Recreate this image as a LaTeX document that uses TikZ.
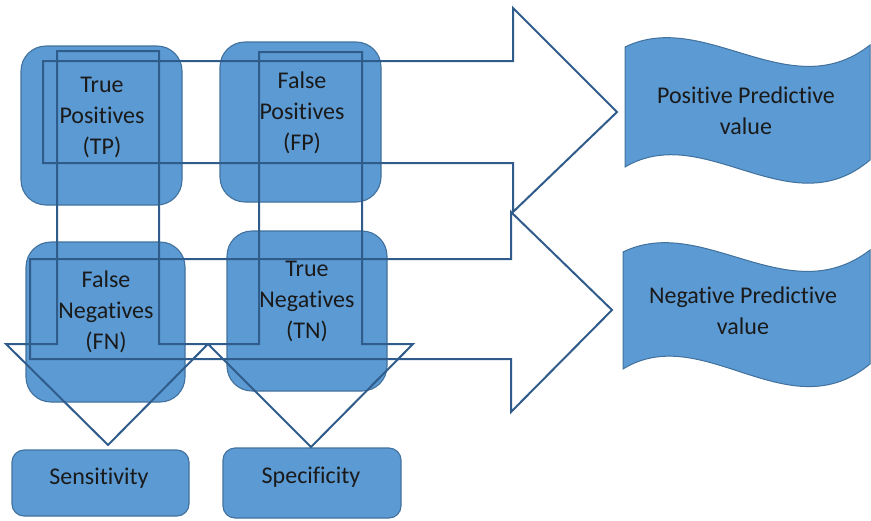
\documentclass[tikz,border=0pt]{standalone}
\usepackage{fontspec}
\setmainfont{Carlito}[Ligatures=NoCommon]
\definecolor{cellfill}{HTML}{5B9AD3}
\definecolor{cellline}{HTML}{41719C}
\definecolor{arrowline}{HTML}{2F5C8A}
\definecolor{inktext}{HTML}{1A1A1A}
\begin{document}
\begin{tikzpicture}[x=1pt,y=-1pt,
  cell/.style={draw=cellline, line width=1.1pt, fill=cellfill, rounded corners=25pt,
    inner sep=0pt, outer sep=0pt},
  result/.style={cell, rounded corners=12pt},
  lbl/.style={text=inktext, align=center, inner sep=0pt,
    font=\fontsize{24}{31}\selectfont},
  bigarrow/.style={draw=arrowline, line width=2pt, line join=miter},
  flag/.style={draw=cellline, line width=1pt, fill=cellfill}]
\useasboundingbox (0,0) rectangle (871,520);

% confusion matrix cells
\node[cell, minimum width=161pt, minimum height=159pt] (tp) at (101.5,125.5) {};
\node[cell, minimum width=161pt, minimum height=160pt] (fp) at (300.5,122) {};
\node[cell, minimum width=159pt, minimum height=160pt] (fn) at (105.5,322) {};
\node[cell, minimum width=160pt, minimum height=160pt] (tn) at (307,311) {};

% derived measures below the columns
\node[result, minimum width=177pt, minimum height=66pt] (sens) at (100.5,483) {};
\node[result, minimum width=178pt, minimum height=70pt] (spec) at (312,483) {};

% outlined block arrows across the rows
\draw[bigarrow] (43,61) -- (513,61) -- (513,8) -- (617,112) -- (513,212)
  -- (513,163) -- (43,163) -- cycle;
\draw[bigarrow] (30,259) -- (511,259) -- (511,212) -- (612,310) -- (511,412)
  -- (511,359) -- (30,359) -- cycle;

% outlined block arrows down the columns
\draw[bigarrow] (57,51) -- (159,51) -- (159,344) -- (208,344) -- (108,445)
  -- (6,344) -- (57,344) -- cycle;
\draw[bigarrow] (259,52) -- (362,52) -- (362,344) -- (413,344) -- (311,447)
  -- (208,344) -- (259,344) -- cycle;

% predictive value banners
\draw[flag] (625,47) .. controls (705,8) and (790,108) .. (870,45) -- (870,160)
  .. controls (790,228) and (705,120) .. (625,167) -- cycle;
\draw[flag] (623,252) .. controls (703,213) and (788,313) .. (870,250) -- (870,364)
  .. controls (788,432) and (703,320) .. (623,369) -- cycle;

% labels
\node[lbl] (tptxt) at (102,117) {True\\Positives\\(TP)};
\node[lbl] (fptxt) at (302,113) {False\\Positives\\(FP)};
\node[lbl] (fntxt) at (106,312) {False\\Negatives\\(FN)};
\node[lbl] (tntxt) at (307,301) {True\\Negatives\\(TN)};
\node[lbl] (senstxt) at (99,478) {Sensitivity};
\node[lbl] (spectxt) at (311,477) {Specificity};
\node[lbl] (ppvtxt) at (746,111) {Positive Predictive\\value};
\node[lbl] (npvtxt) at (743,311) {Negative Predictive\\value};
\end{tikzpicture}
\end{document}
